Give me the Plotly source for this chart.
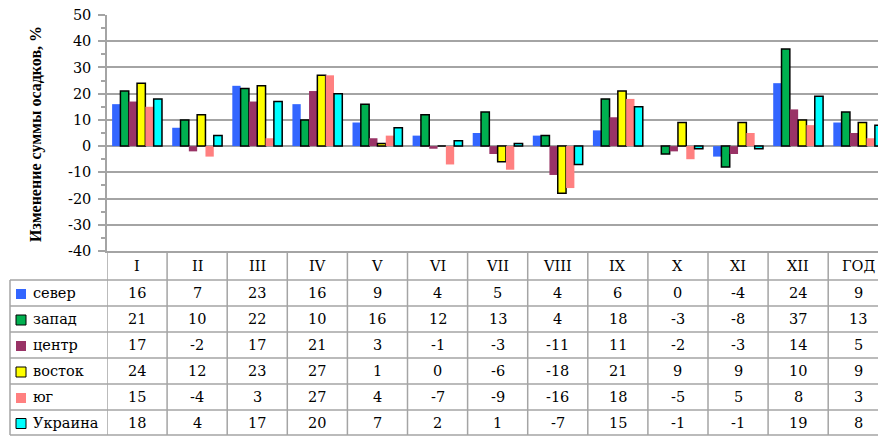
import plotly.graph_objects as go

# Months (Roman numerals) plus the annual value
categories = ["I", "II", "III", "IV", "V", "VI", "VII", "VIII", "IX", "X", "XI", "XII", "ГОД"]

# Change of precipitation totals by region, %
sever = [16, 7, 23, 16, 9, 4, 5, 4, 6, 0, -4, 24, 9]
zapad = [21, 10, 22, 10, 16, 12, 13, 4, 18, -3, -8, 37, 13]
tsentr = [17, -2, 17, 21, 3, -1, -3, -11, 11, -2, -3, 14, 5]
vostok = [24, 12, 23, 27, 1, 0, -6, -18, 21, 9, 9, 10, 9]
yug = [15, -4, 3, 27, 4, -7, -9, -16, 18, -5, 5, 8, 3]
ukraina = [18, 4, 17, 20, 7, 2, 1, -7, 15, -1, -1, 19, 8]

series_names = ["север", "запад", "центр", "восток", "юг", "Украина"]
series_values = [sever, zapad, tsentr, vostok, yug, ukraina]
series_colors = ["#3366FF", "#00B050", "#993366", "#FFFF00", "#FF8080", "#00FFFF"]
series_outline = [0, 1.5, 0, 1.5, 0, 1.5]

# value axis ticks
y_ticks = [-40, -30, -20, -10, 0, 10, 20, 30, 40, 50]
y_tick_labels = [str(v) for v in y_ticks]

W, H = 878, 436
L, T, B = 107, 15, 185
PLOT_W = W - L
PLOT_BOTTOM = H - B
PLOT_H = PLOT_BOTTOM - T
CAT_W = 60.1

FONT = "DejaVu Serif"
TITLE_FONT = "Liberation Serif"
FS = 14.5
GRID = "#a4a4a4"


def px_x(px):
    return (px - L) / PLOT_W


def px_y(py):
    return (PLOT_BOTTOM - py) / PLOT_H


xs = list(range(len(categories)))

fig = go.Figure()
for name, vals, col, lw in zip(series_names, series_values, series_colors, series_outline):
    fig.add_trace(go.Bar(
        x=xs, y=vals, name=name,
        marker=dict(color=col, line=dict(color="#000000", width=lw)),
        showlegend=False,
    ))

shapes = []
annotations = []

# data table geometry (pixel rows)
header_center = 266
row_lines = [280, 306, 332, 358, 384, 410, 435]
row_centers = [293, 319, 345, 371, 397, 422.5]

# vertical column separators, continuing the category boundaries
for i in range(len(categories) + 1):
    shapes.append(dict(type="line", xref="x", yref="paper",
                       x0=i - 0.5, x1=i - 0.5, y0=px_y(PLOT_BOTTOM), y1=px_y(435),
                       line=dict(color=GRID, width=1.5)))
# left border of the legend column
shapes.append(dict(type="line", xref="paper", yref="paper",
                   x0=px_x(10), x1=px_x(10), y0=px_y(280), y1=px_y(435),
                   line=dict(color=GRID, width=1.5)))
# horizontal row lines
for ry in row_lines:
    shapes.append(dict(type="line", xref="paper", yref="paper",
                       x0=px_x(10), x1=1, y0=px_y(ry), y1=px_y(ry),
                       line=dict(color=GRID, width=1.5)))

cell_font = dict(family=FONT, size=FS, color="black")

# header: category labels
for i, c in enumerate(categories):
    annotations.append(dict(x=i, y=px_y(header_center), xref="x", yref="paper",
                            text=c, showarrow=False, xanchor="center", yanchor="middle",
                            font=cell_font))

# rows: legend key + values
for r, (name, vals, col, lw) in enumerate(zip(series_names, series_values, series_colors, series_outline)):
    cy = row_centers[r]
    shapes.append(dict(type="rect", xref="paper", yref="paper",
                       x0=px_x(16), x1=px_x(26), y0=px_y(cy - 4), y1=px_y(cy + 6),
                       fillcolor=col,
                       line=dict(color="#000000" if lw else col, width=1 if lw else 0)))
    annotations.append(dict(x=px_x(31), y=px_y(cy), xref="paper", yref="paper",
                            text=name, showarrow=False, xanchor="left", yanchor="middle",
                            font=cell_font))
    for i, v in enumerate(vals):
        annotations.append(dict(x=i, y=px_y(cy), xref="x", yref="paper",
                                text=str(v), showarrow=False,
                                xanchor="center", yanchor="middle",
                                font=cell_font))

# vertical axis title
annotations.append(dict(x=px_x(36), y=px_y(134), xref="paper", yref="paper",
                        text="<b>Изменение суммы осадков, %</b>", showarrow=False,
                        textangle=-90, xanchor="center", yanchor="middle",
                        font=dict(family=TITLE_FONT, size=16, color="black")))

fig.update_layout(
    width=W, height=H,
    margin=dict(l=L, r=0, t=T, b=B, pad=0),
    paper_bgcolor="white", plot_bgcolor="white",
    barmode="group", bargap=0.17, bargroupgap=0,
    shapes=shapes, annotations=annotations,
    font=dict(family=FONT, size=FS, color="black"),
)
fig.update_xaxes(
    range=[-0.5, -0.5 + PLOT_W / CAT_W],
    showticklabels=False, showgrid=False, zeroline=False,
    showline=True, linecolor=GRID, linewidth=1.5, ticks="",
)
fig.update_yaxes(
    range=[-40, 50], tickvals=y_ticks, ticktext=y_tick_labels,
    showgrid=True, gridcolor=GRID, gridwidth=1.5,
    zeroline=True, zerolinecolor=GRID, zerolinewidth=1.5,
    showline=True, linecolor=GRID, linewidth=1.5,
    ticks="outside", ticklen=7, tickcolor=GRID, tickwidth=1.5,
    ticklabelstandoff=4,
    minor=dict(dtick=5, tick0=0, ticks="outside", ticklen=4, tickcolor=GRID, showgrid=False),
    tickfont=dict(family=FONT, size=FS, color="black"),
)

fig.write_html("out.html")
